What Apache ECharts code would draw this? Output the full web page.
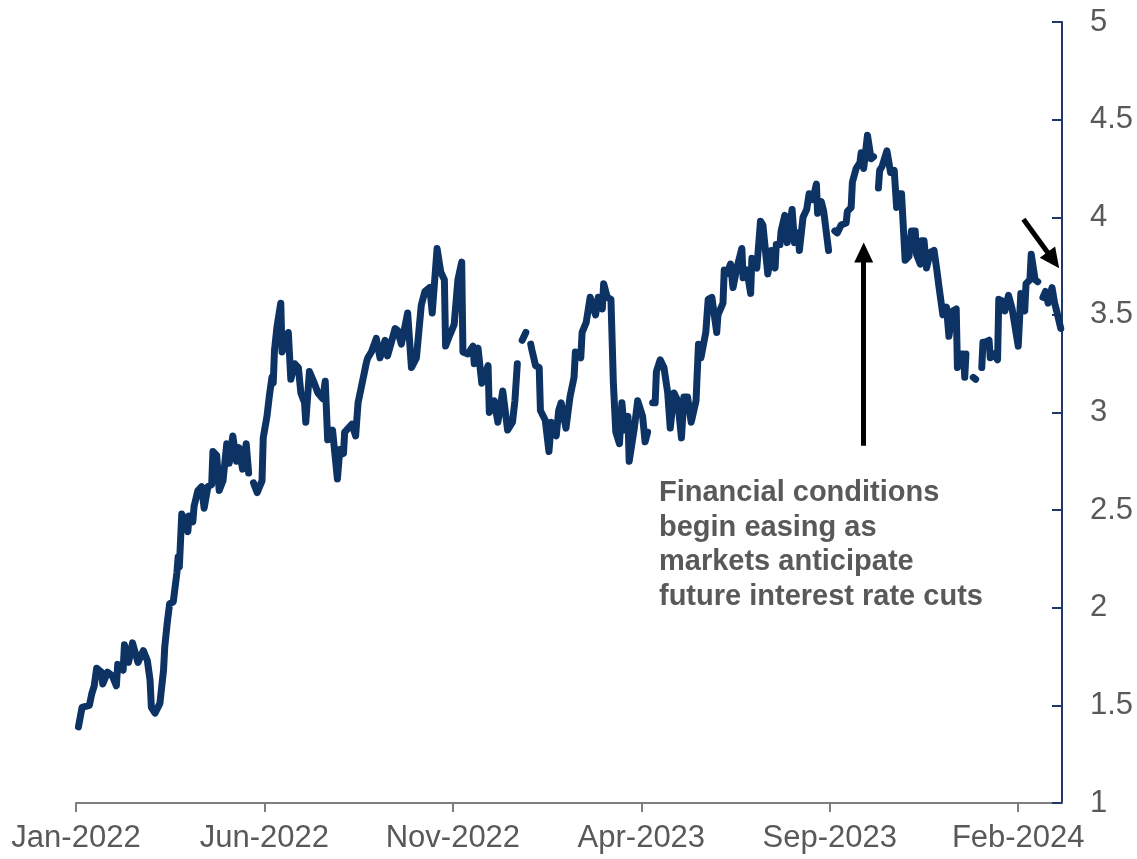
<!DOCTYPE html>
<html>
<head>
<meta charset="utf-8">
<script src="https://cdn.jsdelivr.net/npm/echarts@6/dist/echarts.min.js"></script>
<style>
html,body{margin:0;padding:0;background:#fff;}
#chart{width:1137px;height:859px;}
</style>
</head>
<body>
<div id="chart"></div>
<script>
const tickDates = ['2022-01-01','2022-06-01','2022-11-01','2023-04-01','2023-09-01','2024-02-01'];
const tickLabels = ['Jan-2022','Jun-2022','Nov-2022','Apr-2023','Sep-2023','Feb-2024'];
const yTicks = [1, 1.5, 2, 2.5, 3, 3.5, 4, 4.5, 5];

const dates = [
'2022-01-03','2022-01-06','2022-01-12','2022-01-14','2022-01-16','2022-01-18','2022-01-22','2022-01-23','2022-01-27','2022-01-31',
'2022-02-03','2022-02-04','2022-02-08','2022-02-09','2022-02-12','2022-02-15','2022-02-19','2022-02-23','2022-02-26','2022-02-28',
'2022-03-01','2022-03-04','2022-03-08','2022-03-11','2022-03-12','2022-03-14','2022-03-16','2022-03-19','2022-03-22','2022-03-23',
'2022-03-24','2022-03-26','2022-03-28','2022-03-31','2022-04-01','2022-04-04','2022-04-05','2022-04-08','2022-04-11','2022-04-13',
'2022-04-16','2022-04-19','2022-04-20','2022-04-23','2022-04-25','2022-04-28','2022-05-01','2022-05-03','2022-05-06','2022-05-09',
'2022-05-11','2022-05-14','2022-05-17','2022-05-19','2022-05-20','2022-05-23','2022-05-26','2022-05-30','2022-05-31','2022-06-03',
'2022-06-05','2022-06-07','2022-06-08','2022-06-09','2022-06-11','2022-06-14','2022-06-15','2022-06-18','2022-06-20','2022-06-22',
'2022-06-25','2022-06-28','2022-06-30','2022-07-03','2022-07-04','2022-07-07','2022-07-11','2022-07-14','2022-07-18','2022-07-20',
'2022-07-22','2022-07-26','2022-07-30','2022-08-01','2022-08-04','2022-08-05','2022-08-11','2022-08-14','2022-08-16','2022-08-19',
'2022-08-23','2022-08-24','2022-08-27','2022-08-31','2022-09-03','2022-09-07','2022-09-09','2022-09-12','2022-09-15','2022-09-17',
'2022-09-20','2022-09-25','2022-09-28','2022-10-02','2022-10-06','2022-10-09','2022-10-13','2022-10-15','2022-10-19','2022-10-22',
'2022-10-25','2022-10-26','2022-10-29','2022-11-02','2022-11-05','2022-11-08','2022-11-09','2022-11-13','2022-11-17','2022-11-18',
'2022-11-21','2022-11-24','2022-11-26','2022-11-29','2022-11-30','2022-12-04','2022-12-07','2022-12-11','2022-12-15','2022-12-19',
'2022-12-21','2022-12-23','2022-12-26','2022-12-27','2022-12-30','2023-01-02','2023-01-03','2023-01-04','2023-01-07','2023-01-10',
'2023-01-11','2023-01-15','2023-01-18','2023-01-20','2023-01-24','2023-01-26','2023-01-28','2023-02-01','2023-02-04','2023-02-07',
'2023-02-08','2023-02-12','2023-02-13','2023-02-16','2023-02-19','2023-02-23','2023-02-25','2023-02-28','2023-03-01','2023-03-04',
'2023-03-07','2023-03-09','2023-03-11','2023-03-14','2023-03-16','2023-03-18','2023-03-21','2023-03-22','2023-03-26','2023-03-29',
'2023-04-02','2023-04-04','2023-04-06','2023-04-07','2023-04-10','2023-04-12','2023-04-13','2023-04-16','2023-04-19','2023-04-22',
'2023-04-24','2023-04-27','2023-04-30','2023-05-03','2023-05-05','2023-05-08','2023-05-11','2023-05-15','2023-05-17','2023-05-19',
'2023-05-23','2023-05-25','2023-05-28','2023-06-01','2023-06-02','2023-06-06','2023-06-07','2023-06-09','2023-06-12','2023-06-14',
'2023-06-17','2023-06-21','2023-06-22','2023-06-25','2023-06-28','2023-06-29','2023-07-03','2023-07-06','2023-07-08','2023-07-12',
'2023-07-15','2023-07-18','2023-07-19','2023-07-22','2023-07-23','2023-07-26','2023-07-28','2023-08-01','2023-08-03','2023-08-06',
'2023-08-07','2023-08-10','2023-08-13','2023-08-15','2023-08-18','2023-08-21','2023-08-22','2023-08-25','2023-08-27','2023-08-30',
'2023-08-31','2023-09-04','2023-09-05','2023-09-07','2023-09-10','2023-09-14','2023-09-15','2023-09-18','2023-09-19','2023-09-22',
'2023-09-25','2023-09-26','2023-09-28','2023-10-01','2023-10-04','2023-10-06','2023-10-09','2023-10-10','2023-10-11','2023-10-13',
'2023-10-17','2023-10-20','2023-10-23','2023-10-25','2023-10-27','2023-10-29','2023-11-01','2023-11-04','2023-11-06','2023-11-09',
'2023-11-10','2023-11-13','2023-11-14','2023-11-16','2023-11-18','2023-11-21','2023-11-24','2023-11-26','2023-11-28','2023-12-01',
'2023-12-04','2023-12-06','2023-12-09','2023-12-12','2023-12-13','2023-12-16','2023-12-18','2023-12-19','2023-12-20','2023-12-25',
'2023-12-26','2023-12-28','2024-01-01','2024-01-02','2024-01-03','2024-01-05','2024-01-08','2024-01-09','2024-01-12','2024-01-15',
'2024-01-16','2024-01-19','2024-01-21','2024-01-24','2024-01-27','2024-02-01','2024-02-03','2024-02-06','2024-02-07','2024-02-10',
'2024-02-11','2024-02-14','2024-02-16','2024-02-19','2024-02-20','2024-02-22','2024-02-24','2024-02-27','2024-02-29','2024-03-02',
'2024-03-05'
];

const values = [
1.39,1.49,1.50,1.56,1.60,1.69,1.67,1.61,1.67,1.65,
1.60,1.71,1.68,1.81,1.72,1.82,1.72,1.78,1.73,1.63,
1.49,1.46,1.51,1.68,1.80,1.92,2.02,2.03,2.18,2.26,
2.21,2.48,2.45,2.39,2.47,2.44,2.52,2.60,2.62,2.51,
2.62,2.63,2.80,2.78,2.60,2.65,2.84,2.74,2.88,2.75,
2.82,2.71,2.84,2.69,null,2.64,2.59,2.65,2.87,2.98,
3.09,3.18,3.15,3.32,3.44,3.56,3.31,3.36,3.41,3.17,
3.25,3.23,3.10,3.05,2.95,3.21,3.15,3.10,3.07,3.16,
2.86,2.91,2.66,2.81,2.79,2.90,2.94,2.88,3.05,3.14,
3.26,3.28,3.31,3.38,3.28,3.37,3.29,3.36,3.43,3.42,
3.35,3.51,3.23,3.28,3.55,3.62,3.64,3.51,3.84,3.72,
3.68,3.34,3.39,3.45,3.68,3.77,3.31,3.30,3.34,3.25,
3.33,3.15,3.18,3.24,3.00,3.06,2.95,3.11,2.91,2.95,
3.06,3.25,null,3.37,3.41,null,3.35,3.32,3.24,3.23,
3.01,2.96,2.80,2.95,2.88,3.01,3.05,2.92,3.08,3.18,
3.31,3.28,3.41,3.46,3.59,3.50,3.59,3.53,3.66,3.59,
3.58,3.15,2.90,2.84,3.05,2.91,2.98,2.75,2.91,3.06,
2.98,2.85,2.90,null,3.05,3.05,3.21,3.27,3.23,3.10,
2.92,3.10,3.06,2.87,3.08,3.08,2.95,3.06,3.35,3.28,
3.41,3.58,3.59,3.41,3.50,3.56,3.73,3.71,3.76,3.64,
3.74,3.84,3.69,3.73,3.61,3.79,3.74,3.98,3.96,3.71,
3.83,3.74,3.86,3.86,3.93,4.01,3.87,4.04,3.87,3.92,
3.83,4.00,4.04,4.12,4.09,4.17,4.02,4.08,4.03,3.88,
3.83,null,3.93,3.92,3.96,3.97,4.03,4.05,4.18,4.25,
4.28,4.33,4.25,4.42,4.30,4.31,null,4.15,4.24,4.26,
4.34,4.23,4.24,4.05,4.12,4.12,3.78,3.80,3.93,3.93,
3.81,3.76,3.88,3.88,3.74,3.82,3.83,3.74,3.64,3.50,
3.54,3.39,3.52,3.53,3.23,3.30,3.30,3.18,3.30,null,
3.18,3.17,null,3.23,3.36,3.36,3.37,3.28,3.30,3.27,
3.58,3.57,3.52,3.60,3.53,3.34,3.61,3.52,3.66,3.68,
3.81,3.68,3.67,null,3.59,3.62,3.56,3.64,3.56,3.51,
3.43
];

const annotationLines = ['Financial conditions','begin easing as','markets anticipate','future interest rate cuts'];
const upArrow = { date: '2023-09-28', from: 2.83, to: 3.82 };
const diagArrow = { fromDate: '2024-02-05', fromValue: 3.99, toDate: '2024-02-28', toValue: 3.78 };
const axisMinDate = '2022-01-01';
const axisMaxDate = '2024-03-06';

// Convert a date to a month position counted from Jan 2022 (months are the axis unit).
function monthPos(s) {
  const p = s.split('-').map(Number);
  const dim = new Date(Date.UTC(p[0], p[1], 0)).getUTCDate();
  return (p[0] - 2022) * 12 + (p[1] - 1) + (p[2] - 1) / dim;
}

const seriesData = dates.map((d, i) => [monthPos(d), values[i]]);
const tickValues = tickDates.map(monthPos);

const chart = echarts.init(document.getElementById('chart'), null, { renderer: 'canvas' });
const FONT = '"Liberation Sans", Arial, sans-serif';

chart.setOption({
  animation: false,
  backgroundColor: '#ffffff',
  grid: { left: 76, right: 75, top: 22, bottom: 56, containLabel: false },
  xAxis: {
    type: 'value',
    min: monthPos(axisMinDate),
    max: monthPos(axisMaxDate),
    interval: 5,
    axisLine: { show: true, onZero: false, lineStyle: { color: '#7f7f7f', width: 2 } },
    axisTick: { show: true, length: 9, lineStyle: { color: '#7f7f7f', width: 2 }, customValues: tickValues },
    axisLabel: {
      customValues: tickValues,
      formatter: function (v) {
        for (let i = 0; i < tickValues.length; i++) { if (Math.abs(tickValues[i] - v) < 1e-6) return tickLabels[i]; }
        return '';
      },
      fontSize: 31, color: '#595959', fontFamily: FONT, margin: 20, hideOverlap: false
    },
    splitLine: { show: false }
  },
  yAxis: {
    type: 'value',
    position: 'right',
    min: yTicks[0],
    max: yTicks[yTicks.length - 1],
    interval: 0.5,
    axisLine: { show: true, onZero: false, lineStyle: { color: '#1f3a68', width: 2 } },
    axisTick: { show: true, inside: true, length: 10, lineStyle: { color: '#1f3a68', width: 2 } },
    axisLabel: { fontSize: 31, color: '#595959', fontFamily: FONT, margin: 28 },
    splitLine: { show: false }
  },
  series: [{
    type: 'line',
    data: seriesData,
    showSymbol: false,
    connectNulls: false,
    lineStyle: { color: '#0d3365', width: 7, cap: 'round', join: 'round' },
    silent: true,
    z: 3,
    markLine: {
      silent: true,
      symbol: ['none', 'triangle'],
      symbolSize: [19, 20],
      label: { show: false },
      emphasis: { disabled: true },
      lineStyle: { color: '#000000', width: 5, type: 'solid' },
      data: [
        [ { coord: [monthPos(upArrow.date), upArrow.from] }, { coord: [monthPos(upArrow.date), upArrow.to] } ],
        [ { coord: [monthPos(diagArrow.fromDate), diagArrow.fromValue] }, { coord: [monthPos(diagArrow.toDate), diagArrow.toValue] } ]
      ]
    }
  }],
  graphic: [{
    type: 'text',
    left: 659,
    top: 476,
    silent: true,
    style: {
      text: annotationLines.join('\n'),
      font: 'bold 29px ' + FONT,
      fill: '#595959',
      lineHeight: 34.5
    }
  }]
});
</script>
</body>
</html>
